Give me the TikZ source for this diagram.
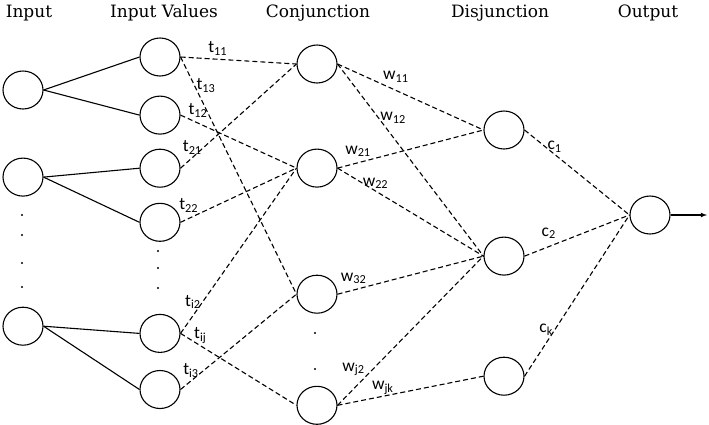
\documentclass[tikz,border=0pt]{standalone}
\usepackage{fontspec}
\setmainfont{DejaVu Serif}
\newfontfamily\calfont{Carlito}
\usetikzlibrary{positioning,shapes.geometric}
\tikzset{mycircle/.style={draw,ellipse,line width=1.1pt,minimum width=40pt,minimum height=38pt,inner sep=0pt},
  mytitle/.style={anchor=base,font=\fontsize{17}{17}\selectfont},
  mylabel/.style={font=\calfont\fontsize{17.5}{17.5}\selectfont,inner sep=1.5pt},
  mydash/.style={dash pattern=on 5pt off 3pt,line width=1.1pt},
  mysolid/.style={line width=1.1pt}
}

\begin{document}
\begin{tikzpicture}[x=1pt,y=-1pt]
  \useasboundingbox (0,0) rectangle (709,424);

  % Titles
  \node[mytitle] (h1) at (29,17) {Input};
  \node[mytitle] (h2) at (164,17) {Input Values};
  \node[mytitle] (h3) at (318,17) {Conjunction};
  \node[mytitle] (h4) at (500,17) {Disjunction};
  \node[mytitle] (h5) at (648,17) {Output};

  % Inputs
  \node[mycircle] (in1) at (23,90) {};
  \node[mycircle, below = 48pt of in1] (in2) {};
  \node[mycircle, below = 110pt of in2] (in3) {};

  % Input values
  \node[mycircle] (iv1) at (160,57) {};
  \node[mycircle, below = 19pt of iv1] (iv2) {};
  \node[mycircle, below = 14pt of iv2] (iv3) {};
  \node[mycircle, below = 15pt of iv3] (iv4) {};
  \node[mycircle, below = 72pt of iv4] (iv5) {};
  \node[mycircle, below = 17pt of iv5] (iv6) {};

  % Conjunctions
  \node[mycircle] (c1) at (317,64) {};
  \node[mycircle, below = 65pt of c1] (c2) {};
  \node[mycircle, below = 87pt of c2] (c3) {};
  \node[mycircle, below = 72pt of c3] (c4) {};

  % Disjunctions
  \node[mycircle] (d1) at (504,130) {};
  \node[mycircle, below = 87pt of d1] (d2) {};
  \node[mycircle, below = 81pt of d2] (d3) {};

  % Output
  \node[mycircle] (out) at (650,215) {};
  \coordinate (arrowend) at (707,215);

  % Dots
  \fill (22,215) circle (1.2pt);
  \fill (22,235) circle (1.2pt);
  \fill (22,263) circle (1.2pt);
  \fill (22,287) circle (1.2pt);
  \fill (158,251) circle (1.2pt);
  \fill (158,268) circle (1.2pt);
  \fill (158,288) circle (1.2pt);
  \fill (315,333) circle (1.2pt);
  \fill (315,369) circle (1.2pt);

  % Inputs to input values
  \draw[mysolid] (in1.east) -- (iv1.west);
  \draw[mysolid] (in1.east) -- (iv2.west);
  \draw[mysolid] (in2.east) -- (iv3.west);
  \draw[mysolid] (in2.east) -- (iv4.west);
  \draw[mysolid] (in3.east) -- (iv5.west);
  \draw[mysolid] (in3.east) -- (iv6.west);

  % Input values to conjunctions
  \draw[mydash] (iv1.east) -- node[mylabel, pos=0.32, above=2pt] (lt11) {t\textsubscript{11}} (c1.west);
  \draw[mydash] (iv1.east) -- node[mylabel, pos=0.12, right] (lt13) {t\textsubscript{13}} (c3.west);
  \draw[mydash] (iv2.east) -- node[mylabel, pos=0.15, above=4pt] (lt12) {t\textsubscript{12}} (c2.west);
  \draw[mydash] (iv3.east) -- node[mylabel, pos=0.2, left] (lt21) {t\textsubscript{21}} (c1.west);
  \draw[mydash] (iv4.east) -- node[mylabel, pos=0.07, above=4pt] (lt22) {t\textsubscript{22}} (c2.west);
  \draw[mydash] (iv5.east) -- node[mylabel, pos=0.19, left] (lti2) {t\textsubscript{i2}} (c2.west);
  \draw[mydash] (iv5.east) -- node[mylabel, pos=0.17, above] (ltij) {t\textsubscript{ij}} (c4.west);
  \draw[mydash] (iv6.east) -- node[mylabel, pos=0.2, left=3pt] (lti3) {t\textsubscript{i3}} (c3.west);

  % Conjunctions to disjunctions
  \draw[mydash] (c1.east) -- node[mylabel, pos=0.4, above=6pt] (lw11) {w\textsubscript{11}} (d1.west);
  \draw[mydash] (c1.east) -- node[mylabel, pos=0.28, right] (lw12) {w\textsubscript{12}} (d2.west);
  \draw[mydash] (c2.east) -- node[mylabel, pos=0.14, above=4pt] (lw21) {w\textsubscript{21}} (d1.west);
  \draw[mydash] (c2.east) -- node[mylabel, pos=0.26, above=0pt] (lw22) {w\textsubscript{22}} (d2.west);
  \draw[mydash] (c3.east) -- node[mylabel, pos=0.11, above=4pt] (lw32) {w\textsubscript{32}} (d2.west);
  \draw[mydash] (c4.east) -- node[mylabel, pos=0.24, left=6pt] (lwj2) {w\textsubscript{j2}} (d2.west);
  \draw[mydash] (c4.east) -- node[mylabel, pos=0.31, above] (lwjk) {w\textsubscript{jk}} (d3.west);

  % Disjunctions to output
  \draw[mydash] (d1.east) -- node[mylabel, pos=0.2, right] (lc1) {c\textsubscript{1}} (out.west);
  \draw[mydash] (d2.east) -- node[mylabel, pos=0.23, above=6pt] (lc2) {c\textsubscript{2}} (out.west);
  \draw[mydash] (d3.east) -- node[mylabel, pos=0.29, left] (lck) {c\textsubscript{k}} (out.west);

  % Output arrow
  \draw[mysolid,-latex] (out.east) -- (arrowend);

\end{tikzpicture}
\end{document}
